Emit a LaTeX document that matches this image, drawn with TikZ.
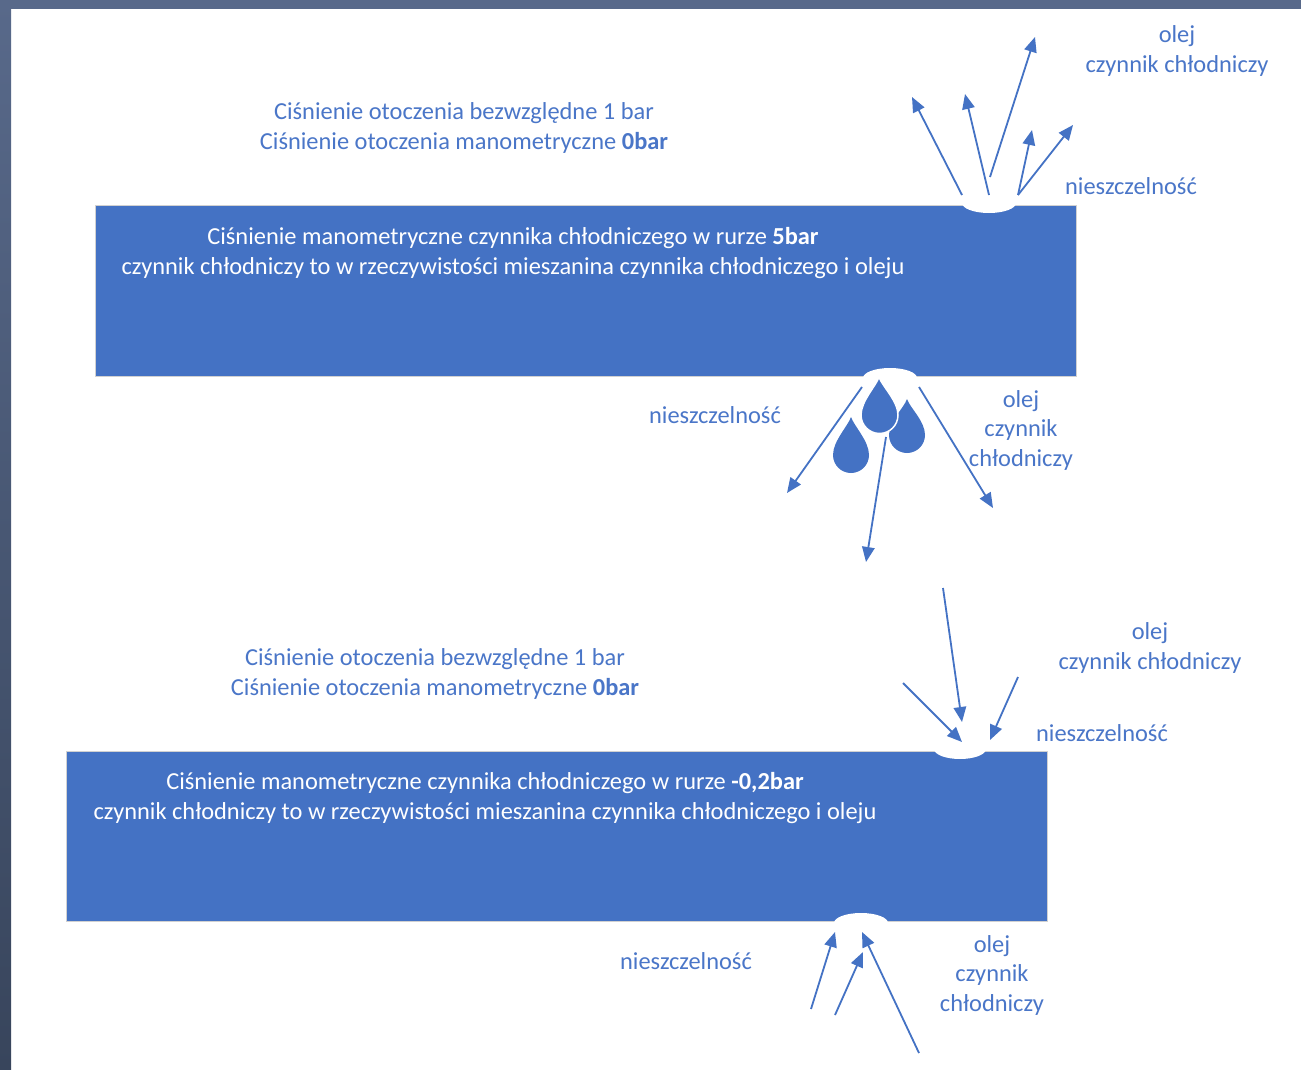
\documentclass[tikz,border=0pt]{standalone}
\usepackage{fontspec}
\setmainfont{Carlito}
\usetikzlibrary{arrows.meta}
\definecolor{acc}{HTML}{4472C4}
\definecolor{txt}{HTML}{4A76C8}
\definecolor{frameA}{HTML}{58698A}
\definecolor{frameB}{HTML}{38455C}
\begin{document}
\begin{tikzpicture}[x=1pt,y=-1pt,
  lbl/.style={text=txt, font=\fontsize{24.4}{29.5}\selectfont, align=center, inner sep=0pt},
  boxtxt/.style={text=white, font=\fontsize{24.4}{29.5}\selectfont, align=center, inner sep=0pt},
  pipe/.style={fill=acc, draw=black!18, line width=1pt, anchor=north west, inner sep=0pt},
  notch/.style={fill=white, draw=none},
  arr/.style={draw=acc, line width=1.8pt, -{Triangle[length=15pt,width=12.5pt]}},
  dropstyle/.style={fill=acc}
]
\useasboundingbox (0,0) rectangle (1301,1070);
\fill[white] (0,0) rectangle (1301,1070);
\shade[top color=frameA, bottom color=frameB] (0,0) rectangle (11,1070);
\fill[frameA] (0,0) rectangle (1301,9);

% ---------- section 1 ----------
\node[lbl] (amb1) at (464,128) {Ciśnienie otoczenia bezwzględne 1 bar\\Ciśnienie otoczenia manometryczne \textbf{0bar}};
\node[pipe, minimum width=981pt, minimum height=171pt] (pipe1) at (95,205) {};
\node[boxtxt] (t1) at (513,253) {Ciśnienie manometryczne czynnika chłodniczego w rurze \textbf{5bar}\\czynnik chłodniczy to w rzeczywistości mieszanina czynnika chłodniczego i oleju};
\fill[notch] (989,203) ellipse [x radius=27, y radius=10];
\fill[notch] (890,378) ellipse [x radius=27, y radius=10];

\node[lbl] (oc1) at (1177,51) {olej\\czynnik chłodniczy};
\node[lbl] (n1) at (1131,186) {nieszczelność};
\node[lbl] (n2) at (715,415) {nieszczelność};
\node[lbl] (oc2) at (1021,430) {olej\\czynnik\\chłodniczy};

% drops
\fill[dropstyle] (907,399) .. controls (910,408) and (925,421) .. (925,435) arc (0:180:18) .. controls (889,421) and (904,408) .. (907,399) -- cycle;
\filldraw[dropstyle, draw=white, line width=1.5pt] (879,377) .. controls (882,386) and (898,401) .. (898,415) arc (0:180:18.5) .. controls (861,401) and (876,386) .. (879,377) -- cycle;
\fill[dropstyle] (851,417) .. controls (854,426) and (869,441) .. (869,455) arc (0:180:18) .. controls (833,441) and (848,426) .. (851,417) -- cycle;

% arrows section 1 top
\coordinate (a1s) at (962,195); \coordinate (a1e) at (912,97);
\coordinate (a2s) at (989,195); \coordinate (a2e) at (965,94);
\coordinate (a3s) at (990,177); \coordinate (a3e) at (1035,37);
\coordinate (a4s) at (1018,195); \coordinate (a4e) at (1032,130);
\coordinate (a5s) at (1018,195); \coordinate (a5e) at (1073,125);
\draw[arr] (a1s) -- (a1e);
\draw[arr] (a2s) -- (a2e);
\draw[arr] (a3s) -- (a3e);
\draw[arr] (a4s) -- (a4e);
\draw[arr] (a5s) -- (a5e);

% arrows section 1 bottom
\coordinate (b1s) at (862,387); \coordinate (b1e) at (787,493);
\coordinate (b2s) at (886,437); \coordinate (b2e) at (866,562);
\coordinate (b3s) at (919,387); \coordinate (b3e) at (993,508);
\draw[arr] (b1s) -- (b1e);
\draw[arr] (b2s) -- (b2e);
\draw[arr] (b3s) -- (b3e);

% ---------- section 2 ----------
\node[lbl] (amb2) at (435,674) {Ciśnienie otoczenia bezwzględne 1 bar\\Ciśnienie otoczenia manometryczne \textbf{0bar}};
\node[pipe, minimum width=981pt, minimum height=170pt] (pipe2) at (66,751) {};
\node[boxtxt] (t2) at (485,798) {Ciśnienie manometryczne czynnika chłodniczego w rurze \textbf{-0,2bar}\\czynnik chłodniczy to w rzeczywistości mieszanina czynnika chłodniczego i oleju};
\fill[notch] (960,749) ellipse [x radius=26, y radius=10];
\fill[notch] (861,923) ellipse [x radius=27, y radius=10];

\node[lbl] (oc3) at (1150,648) {olej\\czynnik chłodniczy};
\node[lbl] (n3) at (1102,733) {nieszczelność};
\node[lbl] (n4) at (686,961) {nieszczelność};
\node[lbl] (oc4) at (992,975) {olej\\czynnik\\chłodniczy};

\coordinate (c1s) at (943,588); \coordinate (c1e) at (962,722);
\coordinate (c2s) at (903,683); \coordinate (c2e) at (962,742);
\coordinate (c3s) at (1018,677); \coordinate (c3e) at (990,740);
\draw[arr] (c1s) -- (c1e);
\draw[arr] (c2s) -- (c2e);
\draw[arr] (c3s) -- (c3e);

\coordinate (d1s) at (811,1009); \coordinate (d1e) at (835,932);
\coordinate (d2s) at (835,1015); \coordinate (d2e) at (863,952);
\coordinate (d3s) at (919,1053); \coordinate (d3e) at (862,932);
\draw[arr] (d1s) -- (d1e);
\draw[arr] (d2s) -- (d2e);
\draw[arr] (d3s) -- (d3e);
\end{tikzpicture}
\end{document}
